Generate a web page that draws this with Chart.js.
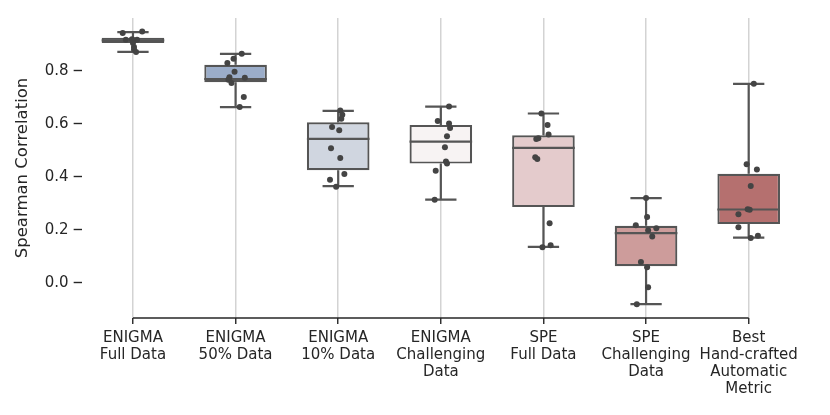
<!DOCTYPE html>
<html>
<head>
<meta charset="utf-8">
<script src="https://cdn.jsdelivr.net/npm/chart.js@4/dist/chart.umd.min.js"></script>
<style>
    html, body { margin: 0; padding: 0; background: #fff; }
    #wrap { width: 830px; height: 415px; }
</style>
</head>
<body>
<div id="wrap"><canvas id="chart"></canvas></div>
<script>
// --- data ---
const categories = [
    ['ENIGMA', 'Full Data'],
    ['ENIGMA', '50% Data'],
    ['ENIGMA', '10% Data'],
    ['ENIGMA', 'Challenging', 'Data'],
    ['SPE', 'Full Data'],
    ['SPE', 'Challenging', 'Data'],
    ['Best', 'Hand-crafted', 'Automatic', 'Metric']
];
const whiskerLow  = [0.871, 0.663, 0.365, 0.314, 0.136, -0.080, 0.171];
const q1          = [0.905, 0.757, 0.425, 0.450, 0.286, 0.063, 0.222];
const median      = [0.915, 0.769, 0.543, 0.533, 0.509, 0.188, 0.277];
const q3          = [0.925, 0.823, 0.606, 0.596, 0.557, 0.216, 0.412];
const whiskerHigh = [0.946, 0.864, 0.649, 0.665, 0.639, 0.320, 0.751];

// individual fold scores (strip points)
const foldScores = [
    [0.948, 0.942, 0.919, 0.917, 0.915, 0.917, 0.905, 0.890, 0.880, 0.871],
    [0.864, 0.845, 0.829, 0.796, 0.776, 0.774, 0.766, 0.754, 0.701, 0.663],
    [0.650, 0.634, 0.619, 0.588, 0.576, 0.508, 0.471, 0.411, 0.389, 0.363],
    [0.665, 0.611, 0.601, 0.584, 0.553, 0.512, 0.458, 0.450, 0.423, 0.314],
    [0.639, 0.596, 0.560, 0.543, 0.546, 0.474, 0.467, 0.225, 0.135, 0.142],
    [0.320, 0.249, 0.218, 0.206, 0.199, 0.175, 0.079, 0.059, -0.016, -0.080],
    [0.751, 0.448, 0.428, 0.366, 0.278, 0.276, 0.259, 0.210, 0.170, 0.178]
];
// horizontal jitter of each point, in category units
const jitter = [
    [0.09, -0.10, -0.01, -0.07, 0.01, 0.04, 0.00, 0.01, 0.01, 0.03],
    [0.06, -0.02, -0.08, -0.01, -0.06, 0.09, -0.07, -0.04, 0.08, 0.04],
    [0.02, 0.04, 0.03, -0.06, 0.01, -0.07, 0.02, 0.06, -0.08, -0.02],
    [0.08, -0.03, 0.08, 0.09, 0.06, 0.04, 0.05, 0.06, -0.05, -0.06],
    [-0.02, 0.04, 0.05, -0.07, -0.05, -0.08, -0.06, 0.06, -0.01, 0.07],
    [0.00, 0.01, -0.10, 0.10, 0.02, 0.06, -0.05, 0.01, 0.02, -0.09],
    [0.05, -0.02, 0.08, 0.02, -0.01, 0.01, -0.10, -0.10, 0.02, 0.09]
];
const yTicks = [0.0, 0.2, 0.4, 0.6, 0.8];

const boxColors = ['#58616f', '#9badc9', '#d0d6e0', '#f7f3f3', '#e4cbcc', '#cd9c9b', '#b5706f'];
const EDGE = '#555555';
const INK = '#262626';
const FONT = 'DejaVu Sans';

const points = [];
foldScores.forEach((arr, i) => arr.forEach((v, k) => points.push({ x: i + jitter[i][k], y: v })));

// whiskers, caps and medians drawn right after the boxes
const boxExtras = {
    id: 'boxExtras',
    afterDatasetDraw(chart, args) {
        if (args.index !== 1) return;
        const ctx = chart.ctx, x = chart.scales.x, y = chart.scales.y;
        const meta = chart.getDatasetMeta(1);
        ctx.save();
        ctx.strokeStyle = EDGE;
        ctx.lineWidth = 2.2;
        categories.forEach((c, i) => {
            const cx = x.getPixelForValue(i);
            const half = meta.data[i].width / 2;
            const cap = half / 2;
            ctx.beginPath();
            ctx.moveTo(cx, y.getPixelForValue(q3[i]));
            ctx.lineTo(cx, y.getPixelForValue(whiskerHigh[i]));
            ctx.moveTo(cx, y.getPixelForValue(q1[i]));
            ctx.lineTo(cx, y.getPixelForValue(whiskerLow[i]));
            ctx.moveTo(cx - cap, y.getPixelForValue(whiskerHigh[i]));
            ctx.lineTo(cx + cap, y.getPixelForValue(whiskerHigh[i]));
            ctx.moveTo(cx - cap, y.getPixelForValue(whiskerLow[i]));
            ctx.lineTo(cx + cap, y.getPixelForValue(whiskerLow[i]));
            ctx.moveTo(cx - half, y.getPixelForValue(median[i]));
            ctx.lineTo(cx + half, y.getPixelForValue(median[i]));
            ctx.stroke();
        });
        ctx.restore();
    },
    beforeDatasetsDraw(chart) {
        // trimmed bottom spine
        const ctx = chart.ctx, x = chart.scales.x;
        const yb = chart.chartArea.bottom;
        ctx.save();
        ctx.strokeStyle = INK;
        ctx.lineWidth = 1.6;
        ctx.beginPath();
        ctx.moveTo(x.getPixelForValue(0), yb);
        ctx.lineTo(x.getPixelForValue(categories.length - 1), yb);
        ctx.stroke();
        ctx.restore();
    }
};

new Chart(document.getElementById('chart'), {
    type: 'bar',
    data: {
        labels: categories,
        datasets: [
            {
                type: 'scatter',
                data: points,
                xAxisID: 'xj',
                order: 0,
                pointRadius: 3,
                pointBackgroundColor: '#444444',
                pointBorderWidth: 0
            },
            {
                data: categories.map((c, i) => [q1[i], q3[i]]),
                order: 1,
                grouped: false,
                backgroundColor: boxColors,
                borderColor: EDGE,
                borderWidth: 2.2,
                borderSkipped: false,
                barPercentage: 0.61,
                categoryPercentage: 1
            }
        ]
    },
    options: {
        animation: false,
        responsive: true,
        maintainAspectRatio: false,
        layout: { padding: { left: 13, right: 30, top: 18, bottom: 12 } },
        plugins: { legend: { display: false }, tooltip: { enabled: false } },
        scales: {
            x: {
                type: 'category',
                offset: true,
                border: { display: false },
                grid: { offset: false, color: '#d3d3d3', lineWidth: 1.5, tickColor: INK, tickLength: 6, tickWidth: 1.4 },
                ticks: { color: INK, font: { family: FONT, size: 15, lineHeight: 1.15 }, padding: 5, maxRotation: 0, autoSkip: false }
            },
            xj: {
                type: 'linear',
                display: false,
                offset: false,
                min: -0.5,
                max: categories.length - 0.5
            },
            y: {
                min: -0.132,
                max: 0.999,
                border: { display: false },
                grid: { drawOnChartArea: false, tickColor: INK, tickLength: 8, tickWidth: 1.4 },
                afterBuildTicks(scale) { scale.ticks = yTicks.map(v => ({ value: v })); },
                ticks: { color: INK, font: { family: FONT, size: 15 }, padding: 5, callback: v => v.toFixed(1) },
                title: { display: true, text: 'Spearman Correlation', color: INK, font: { family: FONT, size: 16.5 }, padding: { top: 0, bottom: 7 } }
            }
        }
    },
    plugins: [boxExtras]
});
</script>
</body>
</html>
